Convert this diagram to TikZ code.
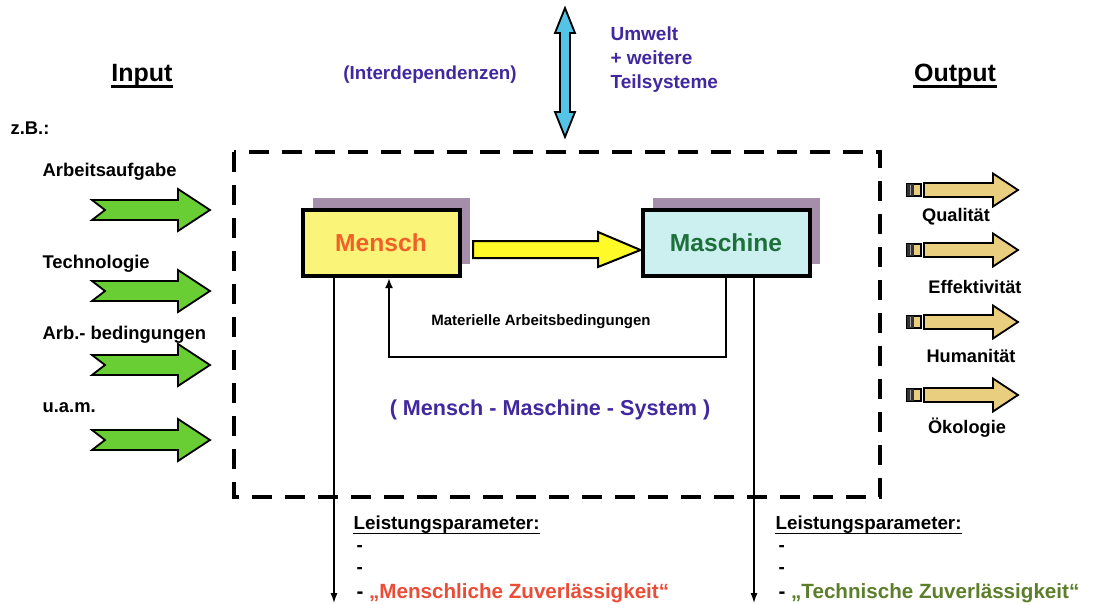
\documentclass[tikz,border=0pt]{standalone}
\usepackage{fontspec}
\setmainfont{Liberation Sans}
\usetikzlibrary{arrows.meta,shadows}
\definecolor{ingreen}{RGB}{104,206,52}
\definecolor{outtan}{RGB}{234,206,128}
\definecolor{ucyan}{RGB}{84,196,230}
\definecolor{indigo}{RGB}{66,40,158}
\definecolor{mfill}{RGB}{250,244,120}
\definecolor{tfill}{RGB}{204,240,240}
\definecolor{shadowc}{RGB}{164,142,170}
\definecolor{mred}{RGB}{240,96,40}
\definecolor{tgreen}{RGB}{30,112,58}
\definecolor{zred}{RGB}{236,76,54}
\definecolor{zgreen}{RGB}{92,126,42}
\definecolor{yarrow}{RGB}{255,250,40}

\begin{document}
\begin{tikzpicture}[x=0.5pt,y=-0.5pt,semithick,
  txt/.style={inner sep=0pt,font=\fontsize{#1}{12}\selectfont\bfseries},
  txt/.default=9.2,
  ind/.style={text=indigo},
  unit/.style={draw,line width=2pt,minimum height=33pt,
    general shadow={fill=shadowc,shadow xshift=5pt,shadow yshift=6pt}},
  down/.style={line width=0.6pt,-{Latex[length=5pt,width=3.5pt]}},
  fback/.style={line width=1.1pt,-{Latex[length=5pt,width=4pt]}},
  pics/inarrow/.style={code={
    \draw[line width=0.9pt,fill=ingreen] (0,-10) -- (86,-10) -- (86,-21) -- (118,0)
      -- (86,21) -- (86,10) -- (0,10) -- (13,0) -- cycle;}},
  pics/outarrow/.style={code={
    \draw[line width=0.9pt,fill=outtan] (17,-7) -- (86,-7) -- (86,-16.5) -- (111,0)
      -- (86,16.5) -- (86,7) -- (17,7) -- cycle;
    \draw[line width=0.9pt,fill=outtan] (0,-6) rectangle (14,6);
    \fill[black!80] (0,-6) rectangle (7,6);
    \draw[black!35,line width=0.6pt] (3.5,-5) -- (3.5,5);}}]
\useasboundingbox (0,0) rectangle (1103,605);

% Input / Output
\node[txt=12.5] (input) at (142,75) {Input};
\node[txt=12.5] (output) at (955,75) {Output};
\draw[line width=1.3pt] ([yshift=-2.6pt]input.base west) -- ([yshift=-2.6pt]input.base east);
\draw[line width=1.3pt] ([yshift=-2.6pt]output.base west) -- ([yshift=-2.6pt]output.base east);

% Umwelt
\node[txt=9.4,ind] (interdep) at (430,75) {(Interdependenzen)};
\draw[line width=0.9pt,fill=ucyan] (565,8) -- (575,33) -- (570,33) -- (570,112) -- (575,112)
  -- (565,137) -- (555,112) -- (560,112) -- (560,33) -- (555,33) -- cycle;
\node[txt=9.5,ind,align=left,anchor=north west] (umwelt) at (610,26)
  {Umwelt\\+ weitere\\Teilsysteme};

% Eingaenge
\node[txt,anchor=west] (zb) at (10,128) {z.B.:};
\node[txt,anchor=west] (aufgabe) at (42,172) {Arbeitsaufgabe};
\node[txt,anchor=west] (techno) at (42,264) {Technologie};
\node[txt,anchor=west] (bedingung) at (42,335) {Arb.- bedingungen};
\node[txt,anchor=west] (uam) at (42,408) {u.a.m.};
\foreach \y in {210,291,365,440}
  \pic at (92,\y) {inarrow};

% System
\draw[line width=2pt,dash pattern=on 10pt off 6.5pt] (234,152) rectangle (880,497);
\node[unit,fill=mfill,minimum width=78.5pt,txt=12.3,text=mred] (mensch) at (381,243) {Mensch};
\node[unit,fill=tfill,minimum width=83.5pt,txt=12.3,text=tgreen] (maschine) at (726,243) {Maschine};
\draw[line width=1pt,fill=yarrow] (473,241) -- (598,241) -- (598,232) -- (maschine.west |- 0,250)
  -- (598,267) -- (598,258) -- (473,258) -- cycle;
\draw[fback] (maschine.south) -- ++(0,79) -| ([xshift=4pt]mensch.south);
\node[txt=7.5] (material) at (541,322) {Materielle Arbeitsbedingungen};
\node[txt=10.8,ind] (mms) at (550,410) {( Mensch - Maschine - System )};

% Ausgaenge
\foreach \y in {190,250,322,395}
  \pic at (907,\y) {outarrow};
\node[txt=9.1] (quali) at (956,217) {Qualität};
\node[txt=9.1] (effekt) at (975,287) {Effektivität};
\node[txt=9.1] (human) at (971,356) {Humanität};
\node[txt=9.1] (oeko) at (967,428) {Ökologie};

% Leistungsparameter
\coordinate (mend) at (334,603);
\coordinate (tend) at (754,603);
\draw[down] (mend |- mensch.south) -- (mend);
\draw[down] (tend |- maschine.south) -- (tend);
\node[txt=9.4,anchor=west] (mlp) at (353,525) {Leistungsparameter:};
\draw[line width=0.9pt] ([yshift=-1.8pt]mlp.base west) -- ([yshift=-1.8pt]mlp.base east);
\node[txt=9.4,anchor=west] (mlp1) at (356,548) {-};
\node[txt=9.4,anchor=west] (mlp2) at (356,570) {-};
\node[txt=10.3,anchor=west] (mlp3) at (356,593) {- \textcolor{zred}{„Menschliche Zuverlässigkeit“}};
\node[txt=9.4,anchor=west] (tlp) at (775,525) {Leistungsparameter:};
\draw[line width=0.9pt] ([yshift=-1.8pt]tlp.base west) -- ([yshift=-1.8pt]tlp.base east);
\node[txt=9.4,anchor=west] (tlp1) at (778,548) {-};
\node[txt=9.4,anchor=west] (tlp2) at (778,570) {-};
\node[txt=10.3,anchor=west] (tlp3) at (778,593) {- \textcolor{zgreen}{„Technische Zuverlässigkeit“}};
\end{tikzpicture}
\end{document}
